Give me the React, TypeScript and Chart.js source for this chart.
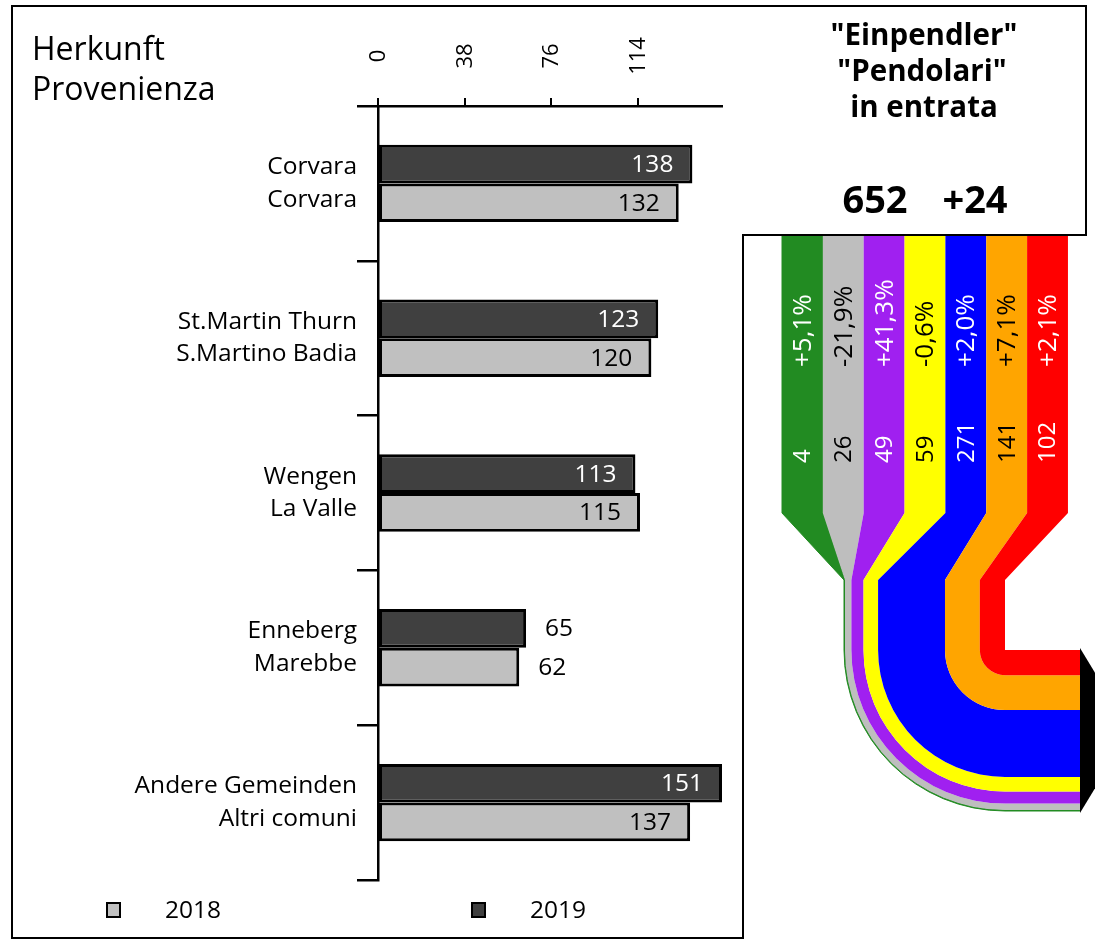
import React, { useEffect, useRef } from "react";
import { Chart, registerables } from "chart.js";

Chart.register(...registerables);

// ---------- data ----------
const categoriesDe = ["Corvara", "St.Martin Thurn", "Wengen", "Enneberg", "Andere Gemeinden"];
const categoriesIt = ["Corvara", "S.Martino Badia", "La Valle", "Marebbe", "Altri comuni"];
const values2019 = [138, 123, 113, 65, 151];
const values2018 = [132, 120, 115, 62, 137];
const xTickValues = [0, 38, 76, 114];
const xMax = 151;
const titleLines = ["Herkunft", "Provenienza"];

const flowValues = [4, 26, 49, 59, 271, 141, 102];
const flowChanges = ["+5,1%", "-21,9%", "+41,3%", "-0,6%", "+2,0%", "+7,1%", "+2,1%"];
const flowColors = ["#228b22", "#bebebe", "#a020f0", "#ffff00", "#0000ff", "#ffa500", "#ff0000"];
const flowTextColors = ["#ffffff", "#000000", "#ffffff", "#000000", "#ffffff", "#000000", "#ffffff"];
const boxTitleLines = ['"Einpendler"', '"Pendolari"', "in entrata"];
const totalValue = 652;
const totalChange = "+24";

const FONT = "'Open Sans', 'Noto Sans', sans-serif";

// ---------- layout (page pixels) ----------
const B_OFFSET_X = 744;
const COL_LEFT = 782;
const COL_WIDTH = 40.85;
const COL_TOP = 236;
const COL_BOTTOM = 513;
const NECK_TOP = 580;
const FLOW_END = 1080;
const ARROW_TIP = 1130;

const barDecor = {
  id: "barDecor",
  afterDraw(chart: any) {
    const ctx = chart.ctx;
    ctx.save();
    // title
    ctx.fillStyle = "#000";
    ctx.font = `32px ${FONT}`;
    ctx.textAlign = "left";
    ctx.textBaseline = "alphabetic";
    ctx.fillText(titleLines[0], 32, 60);
    ctx.fillText(titleLines[1], 32, 100);

    // x tick labels (rotated, centered)
    const xs = chart.scales.x;
    ctx.font = `22px ${FONT}`;
    xs.ticks.forEach((t: any) => {
      const px = xs.getPixelForValue(t.value);
      ctx.save();
      ctx.translate(px, 56);
      ctx.rotate(-Math.PI / 2);
      ctx.textAlign = "center";
      ctx.textBaseline = "middle";
      ctx.fillText(String(t.value), 0, 1);
      ctx.restore();
    });

    // value labels
    ctx.font = `24.5px ${FONT}`;
    ctx.textBaseline = "middle";
    chart.data.datasets.forEach((ds: any, di: number) => {
      const meta = chart.getDatasetMeta(di);
      meta.data.forEach((bar: any, i: number) => {
        const v = ds.data[i];
        if (v > 90) {
          ctx.textAlign = "right";
          ctx.fillStyle = ds.labelColor;
          ctx.fillText(String(v), bar.x - 19, bar.y + 1);
        } else {
          ctx.textAlign = "left";
          ctx.fillStyle = "#000";
          ctx.fillText(String(v), bar.x + 19, bar.y + 1);
        }
      });
    });

    // legend (2018 left, 2019 right)
    const legendItems = [
      { ds: chart.data.datasets[1], x: 107 },
      { ds: chart.data.datasets[0], x: 472 },
    ];
    legendItems.forEach(({ ds, x }) => {
      ctx.fillStyle = ds.backgroundColor;
      ctx.fillRect(x, 903, 13, 14);
      ctx.strokeStyle = "#000";
      ctx.lineWidth = 2;
      ctx.strokeRect(x, 903, 13, 14);
      ctx.fillStyle = "#000";
      ctx.textAlign = "left";
      ctx.textBaseline = "middle";
      ctx.font = `24.5px ${FONT}`;
      ctx.fillText(ds.label, x + 58, 911);
    });
    ctx.restore();
  },
};

const flowDecor = {
  id: "flowDecor",
  afterDraw(chart: any) {
    const ctx = chart.ctx;
    const xs = chart.scales.x;
    const ys = chart.scales.y;
    const px = (v: number) => v - B_OFFSET_X;
    ctx.save();

    // box text
    ctx.fillStyle = "#000";
    ctx.textAlign = "center";
    ctx.textBaseline = "alphabetic";
    ctx.font = `bold 29.5px ${FONT}`;
    ctx.fillText(boxTitleLines[0], px(924), 45);
    ctx.fillText(boxTitleLines[1], px(922), 81);
    ctx.fillText(boxTitleLines[2], px(924), 117);
    ctx.font = `bold 38px ${FONT}`;
    ctx.fillText(String(totalValue), px(875), 213);
    ctx.fillText(totalChange, px(975), 213);

    // flow bands
    const total = flowValues.reduce((a, b) => a + b, 0);
    const cx = xs.getPixelForValue(total);
    const cy = ys.getPixelForValue(0);
    let cum = 0;
    flowValues.forEach((v, i) => {
      const nL = xs.getPixelForValue(cum);
      const nR = xs.getPixelForValue(cum + v);
      const rOut = cx - nL;
      const rIn = cx - nR;
      const cL = px(COL_LEFT + i * COL_WIDTH);
      const cR = px(COL_LEFT + (i + 1) * COL_WIDTH);
      ctx.beginPath();
      ctx.moveTo(cL, COL_TOP);
      ctx.lineTo(cL, COL_BOTTOM);
      ctx.lineTo(nL, NECK_TOP);
      ctx.lineTo(nL, cy);
      ctx.arc(cx, cy, rOut, Math.PI, Math.PI / 2, true);
      ctx.lineTo(px(FLOW_END), cy + rOut);
      ctx.lineTo(px(FLOW_END), cy + rIn);
      ctx.lineTo(cx, cy + rIn);
      if (rIn > 0) ctx.arc(cx, cy, rIn, Math.PI / 2, Math.PI, false);
      ctx.lineTo(nR, NECK_TOP);
      ctx.lineTo(cR, COL_BOTTOM);
      ctx.lineTo(cR, COL_TOP);
      ctx.closePath();
      ctx.fillStyle = flowColors[i];
      ctx.fill();
      if (v < 10) {
        ctx.strokeStyle = flowColors[i];
        ctx.lineWidth = 1;
        ctx.stroke();
      }
      cum += v;
    });

    // arrow head
    const yTop = ys.getPixelForValue(0);
    const yBot = ys.getPixelForValue(total);
    ctx.beginPath();
    ctx.moveTo(px(FLOW_END), yTop - 2);
    ctx.lineTo(px(ARROW_TIP), (yTop + yBot) / 2);
    ctx.lineTo(px(FLOW_END), yBot + 2);
    ctx.closePath();
    ctx.fillStyle = "#000";
    ctx.fill();

    // column labels
    flowValues.forEach((v, i) => {
      const xc = px(COL_LEFT + (i + 0.5) * COL_WIDTH);
      ctx.fillStyle = flowTextColors[i];
      ctx.textBaseline = "middle";
      ctx.textAlign = "left";
      ctx.save();
      ctx.font = `26px ${FONT}`;
      ctx.translate(xc, 367);
      ctx.rotate(-Math.PI / 2);
      ctx.fillText(flowChanges[i], 0, 1);
      ctx.restore();
      ctx.save();
      ctx.font = `24px ${FONT}`;
      ctx.translate(xc, 463);
      ctx.rotate(-Math.PI / 2);
      ctx.fillText(String(v), 0, 1);
      ctx.restore();
    });
    ctx.restore();
  },
};

export default function App() {
  const barRef = useRef<HTMLCanvasElement>(null);
  const flowRef = useRef<HTMLCanvasElement>(null);

  useEffect(() => {
    const labels = categoriesDe.map((d, i) => [d, categoriesIt[i]]);
    const barChart = new Chart(barRef.current as HTMLCanvasElement, {
      type: "bar",
      data: {
        labels,
        datasets: [
          {
            label: "2019",
            data: values2019,
            backgroundColor: "#404040",
            borderColor: "#000000",
            borderWidth: 3,
            borderSkipped: false,
            labelColor: "#ffffff",
          } as any,
          {
            label: "2018",
            data: values2018,
            backgroundColor: "#c0c0c0",
            borderColor: "#000000",
            borderWidth: 3,
            borderSkipped: false,
            labelColor: "#000000",
          } as any,
        ],
      },
      options: {
        indexAxis: "y",
        responsive: false,
        animation: false,
        events: [],
        layout: { padding: { left: 0, right: 23, top: 0, bottom: 62 } },
        datasets: { bar: { categoryPercentage: 0.5, barPercentage: 1 } },
        plugins: { legend: { display: false }, tooltip: { enabled: false } },
        scales: {
          x: {
            position: "top",
            min: 0,
            max: xMax,
            afterBuildTicks: (s: any) => {
              s.ticks = xTickValues.map((v) => ({ value: v }));
            },
            afterFit: (s: any) => {
              s.height = 106;
            },
            ticks: { display: false },
            grid: {
              drawOnChartArea: false,
              drawTicks: true,
              tickLength: 8,
              color: "#000",
              lineWidth: 2,
            },
            border: { display: true, color: "#000", width: 2.5 },
          },
          y: {
            afterFit: (s: any) => {
              s.width = 378;
            },
            ticks: {
              color: "#000",
              font: { family: FONT, size: 24.5, lineHeight: 1.33 },
              padding: 0,
            },
            grid: {
              offset: true,
              drawOnChartArea: false,
              drawTicks: true,
              tickLength: 21,
              color: "#000",
              lineWidth: 2.5,
            },
            border: { display: true, color: "#000", width: 2.5 },
          },
        },
      } as any,
      plugins: [barDecor],
    });

    const flowChart = new Chart(flowRef.current as HTMLCanvasElement, {
      type: "scatter",
      data: { datasets: [{ data: [] }] },
      options: {
        responsive: false,
        animation: false,
        events: [],
        layout: { padding: { left: 100, right: 90, top: 650, bottom: 131 } },
        plugins: { legend: { display: false }, tooltip: { enabled: false } },
        scales: {
          x: { type: "linear", display: false, min: 0, max: totalValue },
          y: { type: "linear", display: false, min: 0, max: totalValue, reverse: true },
        },
      } as any,
      plugins: [flowDecor],
    });

    return () => {
      barChart.destroy();
      flowChart.destroy();
    };
  }, []);

  const line = (l: number, t: number, w: number, h: number) => (
    <div
      style={{ position: "absolute", left: l, top: t, width: w, height: h, background: "#000", pointerEvents: "none" }}
    />
  );

  return (
    <div style={{ position: "absolute", left: 0, top: 0, width: 1095, height: 942, background: "#fff", overflow: "hidden" }}>
      <canvas ref={barRef} width={745} height={942} style={{ position: "absolute", left: 0, top: 0 }} />
      <canvas ref={flowRef} width={351} height={942} style={{ position: "absolute", left: B_OFFSET_X, top: 0 }} />
      {line(11, 5, 1076, 2)}
      {line(11, 5, 2, 934)}
      {line(11, 937, 733, 2)}
      {line(742, 234, 2, 705)}
      {line(742, 234, 345, 2)}
      {line(1085, 5, 2, 231)}
    </div>
  );
}
